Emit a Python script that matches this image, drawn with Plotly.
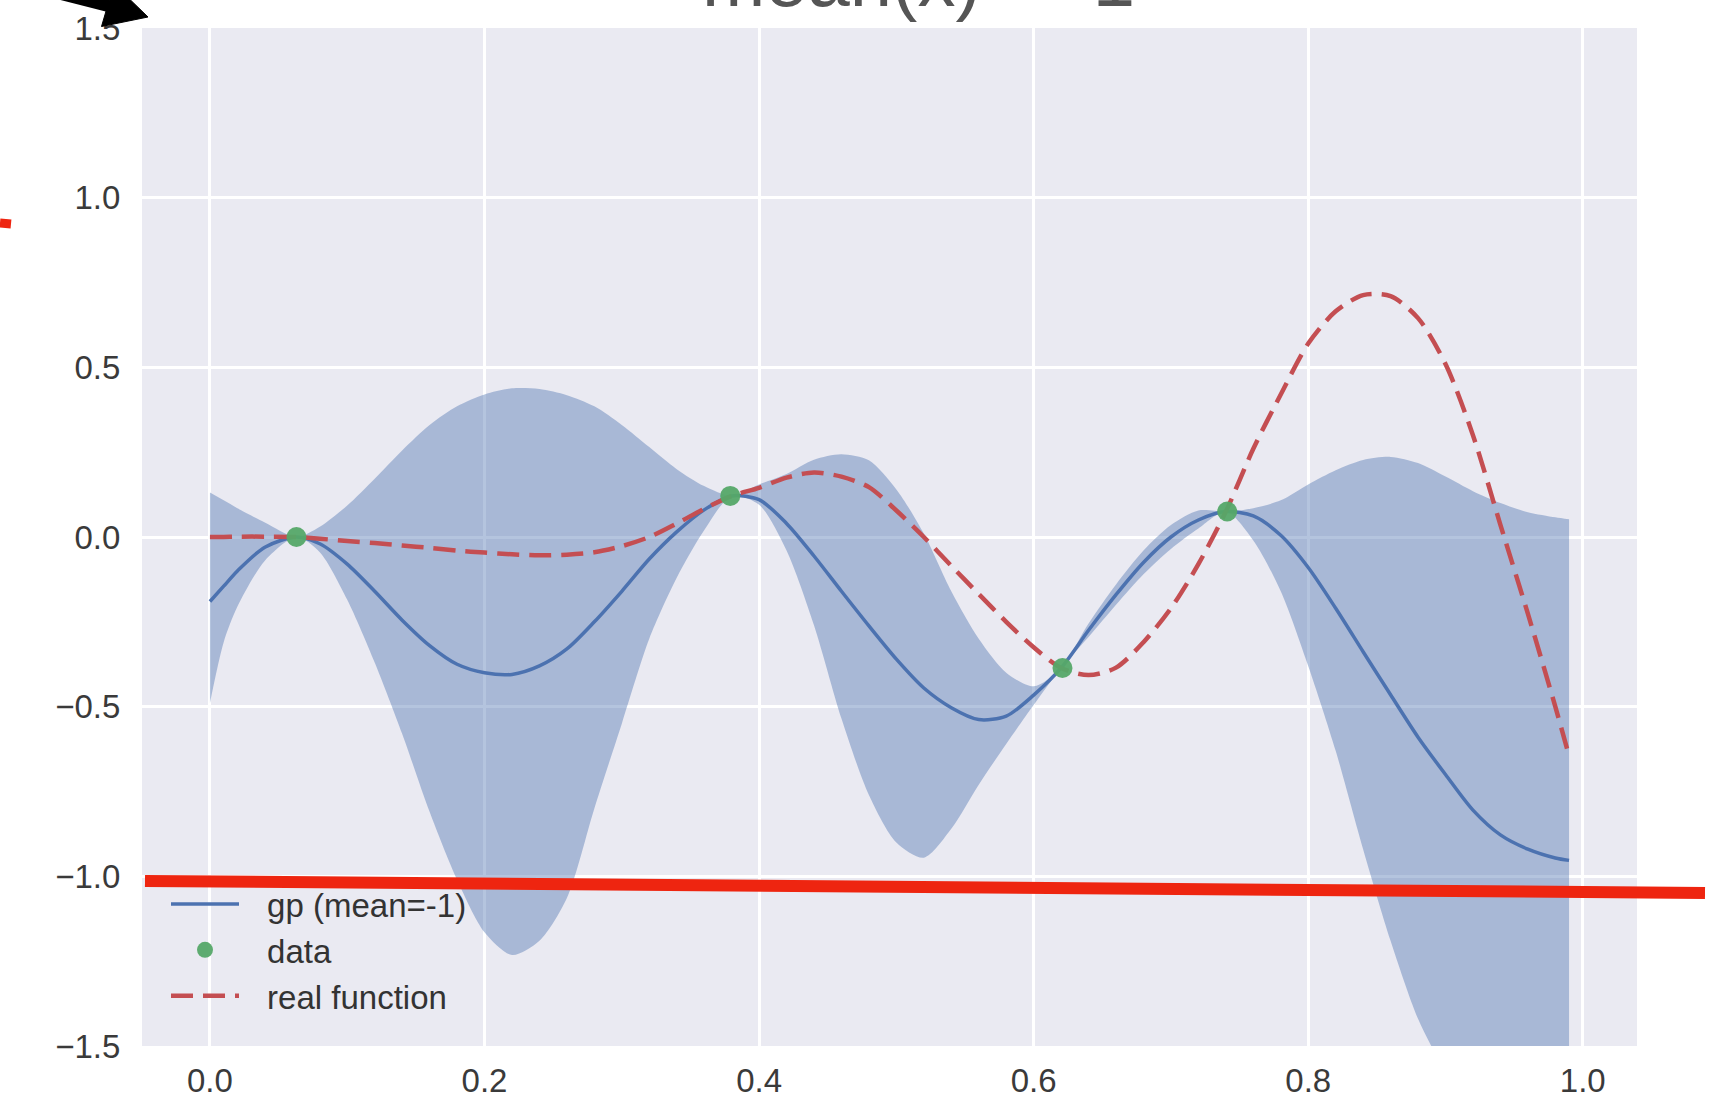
import plotly.graph_objects as go

# ---------------- data ----------------
x_grid = [0.0, 0.01, 0.02, 0.04, 0.063, 0.08, 0.10, 0.12, 0.14, 0.16, 0.18, 0.20,
          0.22, 0.24, 0.26, 0.28, 0.30, 0.32, 0.34, 0.36, 0.38, 0.40, 0.42, 0.44,
          0.46, 0.48, 0.50, 0.52, 0.54, 0.56, 0.58, 0.60, 0.62, 0.64, 0.66, 0.68,
          0.70, 0.72, 0.74, 0.76, 0.78, 0.80, 0.82, 0.84, 0.86, 0.88, 0.90, 0.92,
          0.94, 0.96, 0.98, 0.99]

gp_mean = [-0.19, -0.145, -0.10, -0.03, 0.0, -0.02, -0.08, -0.16, -0.245, -0.32, -0.375, -0.40,
           -0.405, -0.38, -0.33, -0.25, -0.16, -0.065, 0.015, 0.08, 0.121, 0.11, 0.04, -0.056,
           -0.16, -0.262, -0.36, -0.445, -0.503, -0.538, -0.528, -0.466, -0.386, -0.275, -0.17, -0.075,
           0.0, 0.05, 0.075, 0.062, 0.005, -0.09, -0.21, -0.338, -0.465, -0.59, -0.70, -0.805,
           -0.878, -0.92, -0.946, -0.953]

gp_upper = [0.131, 0.108, 0.085, 0.043, 0.0, 0.03, 0.093, 0.172, 0.255, 0.33, 0.385, 0.42,
            0.438, 0.436, 0.418, 0.385, 0.33, 0.265, 0.20, 0.15, 0.121, 0.155, 0.186, 0.228,
            0.244, 0.226, 0.14, 0.01, -0.16, -0.30, -0.40, -0.44, -0.386, -0.255, -0.14, -0.04,
            0.035, 0.078, 0.075, 0.085, 0.108, 0.155, 0.197, 0.227, 0.236, 0.218, 0.178, 0.135,
            0.10, 0.073, 0.058, 0.052]

gp_lower = [-0.489, -0.31, -0.205, -0.07, 0.0, -0.045, -0.185, -0.37, -0.58, -0.81, -1.01, -1.165,
            -1.232, -1.19, -1.064, -0.80, -0.55, -0.30, -0.12, 0.02, 0.121, 0.095, -0.04, -0.26,
            -0.535, -0.76, -0.90, -0.945, -0.86, -0.73, -0.61, -0.495, -0.386, -0.295, -0.20, -0.11,
            -0.035, 0.025, 0.075, -0.01, -0.16, -0.38, -0.63, -0.92, -1.19, -1.42, -1.58, -1.74,
            -1.86, -1.91, -1.95, -1.96]

real_fn = [0.0, 0.0, 0.001, 0.001, 0.0, -0.005, -0.012, -0.018, -0.025, -0.032, -0.04, -0.046,
           -0.051, -0.054, -0.052, -0.045, -0.027, 0.0, 0.04, 0.083, 0.121, 0.145, 0.175, 0.19,
           0.178, 0.147, 0.078, 0.0, -0.085, -0.168, -0.25, -0.325, -0.386, -0.407, -0.385, -0.31,
           -0.21, -0.08, 0.075, 0.26, 0.42, 0.57, 0.665, 0.713, 0.71, 0.645, 0.51, 0.30,
           0.036, -0.226, -0.50, -0.645]

data_x = [0.063, 0.379, 0.621, 0.741]
data_y = [0.0, 0.121, -0.386, 0.075]

x_ticks = [0.0, 0.2, 0.4, 0.6, 0.8, 1.0]
x_tick_labels = ["0.0", "0.2", "0.4", "0.6", "0.8", "1.0"]
y_ticks = [-1.5, -1.0, -0.5, 0.0, 0.5, 1.0, 1.5]
y_tick_labels = ["\u22121.5", "\u22121.0", "\u22120.5", "0.0", "0.5", "1.0", "1.5"]

title_text = "mean(x) = -1"
legend_names = ["gp (mean=-1)", "data", "real function"]

# ---------------- layout helpers (pixel -> paper) ----------------
W, H = 1711, 1107
L, R, T, B = 142, 1637, 28, 1046


def px(xp):
    return (xp - L) / (R - L)


def py(yp):
    return (B - yp) / (B - T)


FONT = "Liberation Sans, Arial, sans-serif"
BLUE = "#4C72B0"
GREEN = "#55A868"
RED = "#C44E52"
BAND = "rgba(76,114,176,0.42)"
PAD = "\u2002\u2009"  # visual gap between legend symbol and label

fig = go.Figure()

# confidence band
fig.add_trace(go.Scatter(x=x_grid, y=gp_lower, mode="lines", line=dict(width=0, shape="spline", smoothing=0.8),
                         showlegend=False, hoverinfo="skip"))
fig.add_trace(go.Scatter(x=x_grid, y=gp_upper, mode="lines", line=dict(width=0, shape="spline", smoothing=0.8),
                         fill="tonexty", fillcolor=BAND, showlegend=False, hoverinfo="skip"))

# gp mean
fig.add_trace(go.Scatter(x=x_grid, y=gp_mean, mode="lines", name=PAD + legend_names[0], legendrank=1,
                         line=dict(color=BLUE, width=3.5, shape="spline", smoothing=0.8)))
# real function
fig.add_trace(go.Scatter(x=x_grid, y=real_fn, mode="lines", name=PAD + legend_names[2], legendrank=3,
                         line=dict(color=RED, width=4.5, dash="22px,10px", shape="spline", smoothing=0.8)))
# data
fig.add_trace(go.Scatter(x=data_x, y=data_y, mode="markers", name=PAD + legend_names[1], legendrank=2,
                         marker=dict(color=GREEN, size=20, opacity=0.95)))

axis_common = dict(showgrid=True, gridcolor="white", gridwidth=2.5, zeroline=False, showline=False,
                   automargin=False, ticks="outside", tickcolor="rgba(0,0,0,0)",
                   tickfont=dict(family=FONT, size=33, color="#3a3a3a"))

fig.update_layout(
    width=W, height=H,
    margin=dict(l=L, r=W - R, t=T, b=H - B, pad=0, autoexpand=False),
    paper_bgcolor="white",
    plot_bgcolor="#EAEAF2",
    xaxis=dict(range=[-0.0495, 1.0395], tickvals=x_ticks, ticktext=x_tick_labels, ticklen=5, **axis_common),
    yaxis=dict(range=[-1.5, 1.5], tickvals=y_ticks, ticktext=y_tick_labels, ticklen=14, **axis_common),
    legend=dict(x=px(166), y=py(876), xanchor="left", yanchor="top", bgcolor="rgba(0,0,0,0)",
                traceorder="normal",
                font=dict(family=FONT, size=33, color="#333333"), itemwidth=68, tracegroupgap=0),
    showlegend=True,
)

# cropped title at the very top
fig.add_annotation(text=title_text, xref="paper", yref="paper", x=px(700), y=py(-21),
                   xanchor="left", yanchor="middle", showarrow=False,
                   font=dict(family=FONT, size=76, color="#555555"))

# hand-drawn annotations: red strike line, red blob, black arrow
shapes = [
    dict(type="line", xref="paper", yref="paper", x0=px(145), y0=py(881), x1=px(1705), y1=py(893),
         line=dict(color="#EE2510", width=12)),
    dict(type="line", xref="paper", yref="paper", x0=px(0), y0=py(223), x1=px(11), y1=py(224),
         line=dict(color="#EE2510", width=9)),
    dict(type="line", xref="paper", yref="paper", x0=px(30), y0=py(-14), x1=px(112), y1=py(7),
         line=dict(color="black", width=12)),
    dict(type="path", xref="paper", yref="paper",
         path=f"M {px(148)},{py(17)} L {px(101.5)},{py(26.5)} L {px(114)},{py(-16)} Z",
         fillcolor="black", line=dict(color="black", width=1)),
]
fig.update_layout(shapes=shapes)

fig.write_html("out.html", config={"displayModeBar": False},
               post_script="document.body.style.margin='0px';")
